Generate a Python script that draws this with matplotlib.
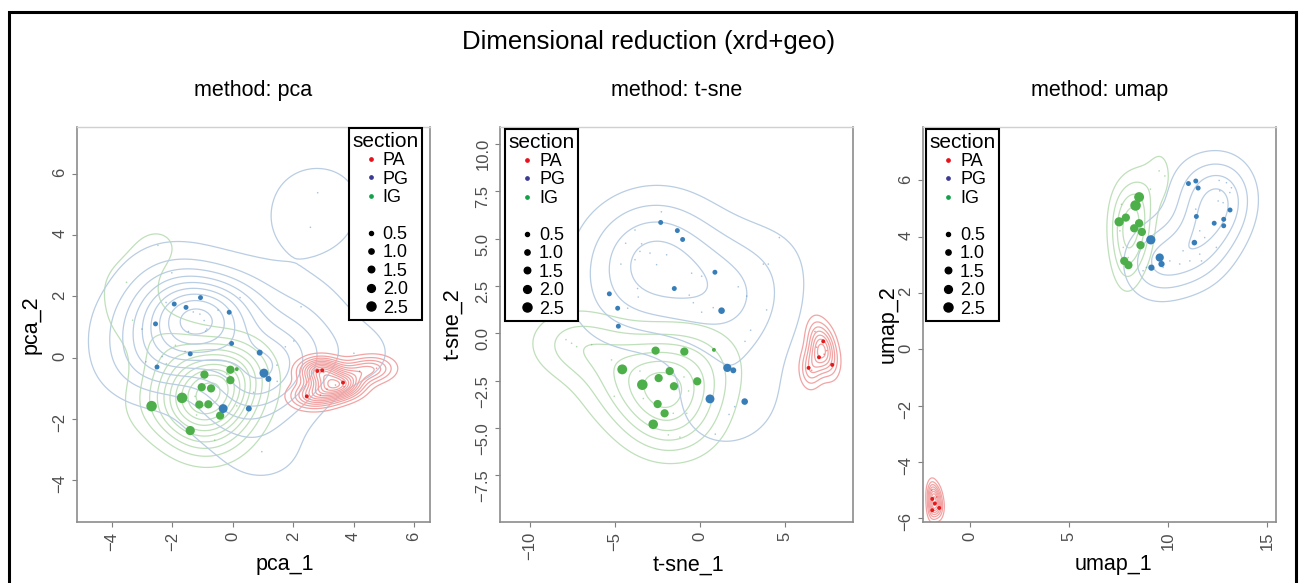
import numpy as np
import matplotlib
matplotlib.use("Agg")
from matplotlib import pyplot as plt
from matplotlib.lines import Line2D
from matplotlib.patches import Rectangle

plt.rcParams['font.family'] = ['Liberation Sans', 'DejaVu Sans']

# ---------------- data ----------------
sections = ["PA", "PG", "IG"]
size_breaks = [0.5, 1.0, 1.5, 2.0, 2.5]

# pca  (size 0 = the tiny dots)
pca_PA_x = [2.80, 2.96, 3.65, 2.45, 4.76, 3.12, 2.90, 3.68, 3.01, 4.20, 3.40]
pca_PA_y = [-0.44, -0.42, -0.82, -1.27, -0.35, -1.03, -1.23, -0.95, -0.49, -0.45, -0.90]
pca_PA_s = [0.5, 0.5, 0.5, 0.5, 0, 0, 0, 0, 0, 0, 0]

pca_PG_x = [-1.07, -1.94, -1.55, -0.12, -2.56, -0.04, -1.41, -2.51, 0.89, 1.03, 1.18, -0.32, 0.53,
            2.81, 2.57, 2.26, 0.24, -2.02, -1.31, -1.09, -0.95, -0.86, -0.49, -1.47, -0.90, 2.02,
            1.74, 1.46, 1.47, 0.69, 0.96, 4.01, -1.58, -2.34, -2.88, -3.01, -2.21, 0.02]
pca_PG_y = [1.96, 1.75, 1.64, 1.48, 1.10, 0.46, 0.12, -0.31, 0.16, -0.51, -0.70, -1.67, -1.67,
            5.39, 4.26, 1.66, 1.96, 2.77, 1.49, 1.42, 1.21, 0.93, 1.55, 0.85, 0.87, 0.54,
            0.35, -0.25, -0.78, -1.14, -3.08, 0.14, 0.20, 0.03, -0.14, 0.93, 1.80, -0.44]
pca_PG_s = [0.8, 0.8, 0.8, 0.8, 0.8, 0.8, 0.8, 0.8, 1.1, 2.0, 1.1, 2.0, 1.1] + [0] * 25

pca_IG_x = [-0.94, -0.08, -0.08, 0.13, -1.03, -0.72, -1.68, -1.11, -0.81, -0.42, -2.69, -1.41,
            -2.48, -3.52, -3.32, -1.20, -0.20, 0.13, -1.25, -2.20, -0.60, -1.90]
pca_IG_y = [-0.56, -0.40, -0.74, -0.38, -0.97, -1.01, -1.32, -1.54, -1.53, -1.90, -1.59, -2.39,
            3.67, 2.46, 1.22, -1.88, -0.54, -1.58, -1.27, -0.20, -2.70, 0.40]
pca_IG_s = [1.8, 1.8, 1.8, 0.5, 1.8, 1.8, 2.5, 1.8, 1.8, 1.8, 2.5, 2.1] + [0] * 10

# t-sne
tsne_PA_x = [7.25, 7.00, 6.39, 7.78, 6.76, 6.86, 7.45, 6.57, 7.30]
tsne_PA_y = [-0.42, -1.26, -1.82, -1.66, 0.10, -0.73, -0.91, -1.95, -1.10]
tsne_PA_s = [0.5, 0.5, 0.5, 0.5, 0, 0, 0, 0, 0]

tsne_PG_x = [-2.31, -1.33, -1.02, 0.88, -1.51, -5.33, -4.84, -4.80, 1.27, 1.61, 1.96, 0.59, 2.63,
             -2.27, -3.82, -4.37, -3.43, -3.53, -3.82, -2.94, -4.65, -1.96, -0.49, 0.10, 4.67,
             4.02, 3.73, 2.75, 2.25, 3.92, 2.65, 2.98, 0.78, 0.10, -0.39, -0.63, -3.67, -3.63,
             -4.25, 1.71, 2.04, 0.90, -2.55]
tsne_PG_y = [5.86, 5.43, 4.96, 3.23, 2.37, 2.09, 1.33, 0.38, 1.20, -1.82, -1.95, -3.46, -3.60,
             6.42, 5.46, 4.76, 4.73, 4.33, 3.89, 4.24, 3.66, 4.15, 3.18, 3.02, 5.06,
             3.66, 3.66, 1.97, 2.46, 1.24, -0.42, 0.17, 1.36, 1.12, 1.62, 2.02, 2.37, 1.92,
             1.33, -4.28, -3.87, -5.32, 3.63]
tsne_PG_s = [0.8, 0.8, 0.8, 0.8, 0.8, 0.8, 0.8, 0.8, 1.3, 1.8, 1.1, 2.0, 1.3] + [0] * 30

tsne_IG_x = [-2.61, -0.92, 0.82, -4.57, -1.78, -2.43, -3.39, -0.16, -1.53, -2.49, -2.08, -2.75,
             -7.88, -7.55, -7.25, -6.37, -5.20, -5.04, -3.53, -3.33, -1.86, -1.18, -1.57, -0.78,
             -0.67, -0.94]
tsne_IG_y = [-0.91, -0.96, -0.87, -1.90, -1.99, -2.36, -2.71, -2.53, -2.79, -3.73, -4.22, -4.80,
             -0.33, -0.52, -0.70, -0.59, -1.40, -3.32, -1.99, -3.44, -5.36, -5.48, -4.22, -4.22,
             -3.04, -2.30]
tsne_IG_s = [1.8, 1.8, 0.5, 2.3, 1.8, 1.8, 2.5, 1.8, 1.8, 1.8, 1.8, 2.2] + [0] * 14

# umap
umap_PA_x = [-1.90, -1.77, -1.55, -1.90, -1.93, -1.68]
umap_PA_y = [-5.32, -5.48, -5.64, -5.72, -5.01, -5.25]
umap_PA_s = [0.5, 0.5, 0.5, 0.5, 0, 0]

umap_PG_x = [9.13, 9.58, 9.67, 9.16, 11.03, 11.40, 11.52, 11.43, 11.33, 12.33, 12.81, 12.81, 13.13,
             12.58, 12.95, 13.20, 13.12, 12.61, 12.53, 12.78, 11.40, 11.60, 11.69, 11.10, 10.59,
             10.09, 9.75, 8.91, 8.74, 11.85, 11.60, 10.76, 12.44]
umap_PG_y = [3.89, 3.26, 3.03, 2.90, 5.89, 5.98, 5.73, 4.72, 3.79, 4.48, 4.62, 4.39, 4.95,
             6.00, 5.92, 5.74, 5.57, 5.63, 5.27, 5.21, 4.98, 3.38, 3.14, 3.14, 3.03,
             3.14, 2.91, 2.91, 2.79, 3.97, 4.21, 3.50, 3.62]
umap_PG_s = [2.1, 1.8, 1.2, 1.2, 0.8, 0.8, 0.8, 0.8, 1.0, 0.8, 0.8, 0.8, 0.8] + [0] * 20

umap_IG_x = [8.54, 8.36, 7.87, 7.53, 8.54, 8.29, 8.68, 8.61, 7.79, 8.00,
             9.55, 9.84, 9.11, 7.65, 7.57, 7.74, 7.99, 8.24]
umap_IG_y = [5.41, 5.11, 4.68, 4.53, 4.48, 4.30, 4.17, 3.70, 3.14, 2.99,
             6.34, 6.16, 5.69, 5.15, 4.21, 3.62, 3.26, 5.04]
umap_IG_s = [2.3, 2.5, 1.8, 2.1, 1.8, 1.8, 1.8, 1.8, 1.8, 1.8] + [0] * 8

# ---------------- styling ----------------
point_col = {"PA": "#E41A1C", "PG": "#377EB8", "IG": "#4DAF4A"}
legend_col = {"PA": "#E8111B", "PG": "#3A3A92", "IG": "#12A14B"}
contour_col = {"PA": "#F2A4A4", "PG": "#B9CDE3", "IG": "#BFE0BA"}

panels = [
    dict(title="method: pca", xlab="pca_1", ylab="pca_2",
         xlim=(-5.16, 6.53), ylim=(-5.38, 7.54), xticks=[-4, -2, 0, 2, 4, 6],
         yticks=[-4, -2, 0, 2, 4, 6], yfmt="{:g}", left=77,
         bw={"PA": 1.25, "PG": 1.2, "IG": 1.5}, rings={"PA": 13, "PG": 9, "IG": 10},
         lo={"PG": 0.055},
         leg_anchor=(1 - 8 / 353, 1 - 1 / 395), loc="upper right",
         xlab_x=0.59, ylab_x=-0.10,
         data={"PA": (pca_PA_x, pca_PA_y, pca_PA_s), "PG": (pca_PG_x, pca_PG_y, pca_PG_s),
               "IG": (pca_IG_x, pca_IG_y, pca_IG_s)}),
    dict(title="method: t-sne", xlab="t-sne_1", ylab="t-sne_2",
         xlim=(-11.76, 9.0), ylim=(-9.96, 10.9), xticks=[-10, -5, 0, 5],
         yticks=[-7.5, -5.0, -2.5, 0.0, 2.5, 5.0, 7.5, 10.0], yfmt="{:.1f}", left=500,
         bw={"PA": 1.5, "PG": 1.7, "IG": 1.5}, rings={"PA": 7, "PG": 4, "IG": 6}, lo={},
         leg_anchor=(5 / 353, 1 - 2 / 395), loc="upper left",
         xlab_x=0.535, ylab_x=-0.105,
         data={"PA": (tsne_PA_x, tsne_PA_y, tsne_PA_s), "PG": (tsne_PG_x, tsne_PG_y, tsne_PG_s),
               "IG": (tsne_IG_x, tsne_IG_y, tsne_IG_s)}),
    dict(title="method: umap", xlab="umap_1", ylab="umap_2",
         xlim=(-2.37, 15.45), ylim=(-6.14, 7.9), xticks=[0, 5, 10, 15],
         yticks=[-6, -4, -2, 0, 2, 4, 6], yfmt="{:g}", left=923,
         bw={"PA": 1.6, "PG": 1.5, "IG": 1.5}, rings={"PA": 8, "PG": 4, "IG": 4}, lo={},
         leg_anchor=(3 / 353, 1 - 2 / 395), loc="upper left",
         xlab_x=0.54, ylab_x=-0.068,
         data={"PA": (umap_PA_x, umap_PA_y, umap_PA_s), "PG": (umap_PG_x, umap_PG_y, umap_PG_s),
               "IG": (umap_IG_x, umap_IG_y, umap_IG_s)}),
]

W, H = 1304, 583


def area(v):
    # point diameter in pixels -> marker area in points^2 (dpi 100)
    d = np.where(np.asarray(v) > 0, 2.3 + 3.3 * np.asarray(v), 1.6)
    return (d * 0.72) ** 2


def kde2d(x, y, mult, n=180):
    x = np.asarray(x, float)
    y = np.asarray(y, float)
    m = len(x)

    def bw(v):
        q1, q3 = np.percentile(v, [25, 75])
        s = min(np.std(v, ddof=1), (q3 - q1) / 1.34)
        if s <= 0:
            s = np.std(v, ddof=1)
        return 1.06 * s * m ** -0.2 * mult

    hx, hy = bw(x), bw(y)
    gx = np.linspace(x.min() - 4 * hx, x.max() + 4 * hx, n)
    gy = np.linspace(y.min() - 4 * hy, y.max() + 4 * hy, n)
    X, Y = np.meshgrid(gx, gy)
    Z = np.zeros_like(X)
    for xi, yi in zip(x, y):
        Z += np.exp(-0.5 * ((X - xi) / hx) ** 2 - 0.5 * ((Y - yi) / hy) ** 2)
    Z /= m * 2 * np.pi * hx * hy
    return X, Y, Z


fig = plt.figure(figsize=(W / 100, H / 100), dpi=100)

for p in panels:
    ax = fig.add_axes([p["left"] / W, 1 - 522 / H, 353 / W, 395 / H])

    for s in ["IG", "PG", "PA"]:
        X, Y, Z = kde2d(p["data"][s][0], p["data"][s][1], p["bw"][s])
        k = p["rings"][s]
        lo = p["lo"].get(s, 1 / (k + 0.6))
        lev = Z.max() * np.linspace(lo, k / (k + 0.6), k)
        ax.contour(X, Y, Z, levels=lev, colors=contour_col[s], linewidths=0.9, zorder=1)

    for s in ["IG", "PG", "PA"]:
        x, y, sz = (np.asarray(a, float) for a in p["data"][s])
        tiny = sz == 0
        ax.scatter(x[tiny], y[tiny], s=area(sz[tiny]), color=point_col[s], alpha=0.45,
                   linewidths=0, zorder=2)
        ax.scatter(x[~tiny], y[~tiny], s=area(sz[~tiny]), color=point_col[s],
                   linewidths=0, zorder=3)

    ax.set_xlim(p["xlim"])
    ax.set_ylim(p["ylim"])
    ax.set_xticks(p["xticks"])
    ax.set_yticks(p["yticks"])
    ax.set_yticklabels([p["yfmt"].format(v).replace("-", "\u2212") for v in p["yticks"]])
    ax.tick_params(axis="both", labelrotation=90, colors="#7f7f7f", labelcolor="#4d4d4d",
                   labelsize=12, length=3.5, width=0.8)
    for sp in ["left", "bottom", "right"]:
        ax.spines[sp].set_color("#8c8c8c")
        ax.spines[sp].set_linewidth(1.2)
    ax.spines["top"].set_color("#d0d0d0")
    ax.spines["top"].set_linewidth(1.0)

    ax.set_title(p["title"], fontsize=15.5, pad=22)
    ax.set_xlabel(p["xlab"], fontsize=15.5)
    ax.set_ylabel(p["ylab"], fontsize=15.5)
    ax.xaxis.set_label_coords(p["xlab_x"], -0.082)
    ax.yaxis.set_label_coords(p["ylab_x"], 0.5)

    handles = [Line2D([], [], ls="", marker="o", markersize=2.4, color=legend_col[s],
                      label=s) for s in sections]
    handles.append(Line2D([], [], ls="", marker="", label=" "))
    handles += [Line2D([], [], ls="", marker="o", color="black",
                       markersize=(2.8 + 2.5 * v) * 0.72, label=f"{v:.1f}")
                for v in size_breaks]
    leg = ax.legend(handles=handles, title="section", loc=p["loc"],
                    bbox_to_anchor=p["leg_anchor"], fontsize=13, title_fontsize=15,
                    frameon=True, fancybox=False, framealpha=1, edgecolor="black",
                    borderpad=0.2, labelspacing=0.08, handletextpad=0.15,
                    handlelength=1.0, borderaxespad=0)
    leg.get_frame().set_linewidth(1.5)

fig.text(648.5 / W, 1 - 42 / H, "Dimensional reduction (xrd+geo)", ha="center", va="center",
         fontsize=18.5)

fig.patches.append(Rectangle((9 / W, -0.05), (1296 - 9) / W, 1 - 12 / H + 0.05,
                             transform=fig.transFigure, fill=False, lw=2.2, ec="black",
                             clip_on=False))

fig.savefig("out.png", dpi=100)
